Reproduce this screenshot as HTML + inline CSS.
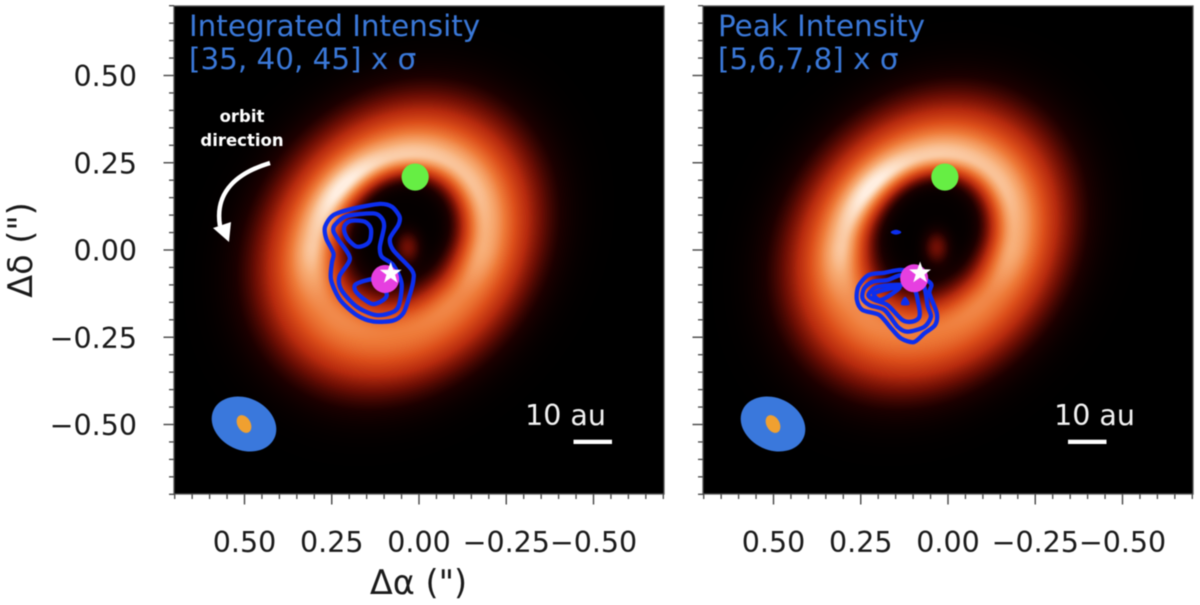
<!DOCTYPE html>
<html lang="en">
<head>
<meta charset="utf-8">
<title>Disc continuum with contours</title>
<style>
html,body{margin:0;padding:0;background:#fff;width:1200px;height:605px;overflow:hidden}
#stage{position:relative;width:1200px;height:605px;overflow:hidden;filter:blur(0.45px)}
canvas{position:absolute;display:block}
svg{position:absolute;left:0;top:0}
text{font-family:"DejaVu Sans","Liberation Sans",sans-serif}
</style>
</head>
<body>
<div id="stage">
<canvas id="img-left" width="490" height="488" style="left:174px;top:6px"></canvas>
<canvas id="img-right" width="490" height="488" style="left:703px;top:6px"></canvas>
<svg id="plot" width="1200" height="605" viewBox="0 0 1200 605">
  <g id="left-panel"></g>
  <g id="right-panel"></g>
  <text x="189" y="36" font-size="29.4" fill="#3a78d8">Integrated Intensity</text>
  <text x="189" y="69" font-size="29.4" fill="#3a78d8">[35, 40, 45] x σ</text>
  <text x="718" y="36" font-size="29.4" fill="#3a78d8">Peak Intensity</text>
  <text x="718" y="69" font-size="29.4" fill="#3a78d8">[5,6,7,8] x σ</text>
  <text x="418.5" y="594" font-size="33.5" text-anchor="middle" fill="#1a1a1a">Δα (")</text>
  <text x="0" y="0" transform="translate(32,250) rotate(-90)" font-size="33.5" text-anchor="middle" fill="#1a1a1a">Δδ (")</text>
  <text x="242" y="122" font-size="16.5" font-weight="bold" text-anchor="middle" fill="#fff">orbit</text>
  <text x="242" y="146" font-size="16.5" font-weight="bold" text-anchor="middle" fill="#fff">direction</text>
  <path d="M270 163 C240 172 214 190 220 226" fill="none" stroke="#fff" stroke-width="4.5"/>
  <polygon points="213,228 231,222 229,242" fill="#fff"/>
</svg>
</div>
<script>
/* Axis ticks (arcsec) */
var majorTicks = [0.5, 0.25, 0, -0.25, -0.5];
var majorTickLabels = ['0.50', '0.25', '0.00', '\u22120.25', '\u22120.50'];
var minorTicks = [0.7,0.65,0.6,0.55,0.45,0.4,0.35,0.3,0.2,0.15,0.1,0.05,-0.05,-0.1,-0.15,-0.2,-0.3,-0.35,-0.4,-0.45,-0.55,-0.6,-0.65,-0.7];

/* Disc model values (arcsec) */
var discCentre = [0.060, 0.020];
var discAxisRatio = [0.83];
var discRingRadius = [0.275];
var ringAzimuths = [0, 45, 90, 135, 180, 225, 270, 315, 360];
var ringExcess = [0.19, 0.24, 0.27, 0.37, 0.26, 0.07, 0.03, 0.06, 0.19];
var innerBlob = [0.034, 0.009, 0.20];

/* Contours, left panel: [dRA, dDec] in arcsec */
var leftContourOuter = [[.269,.067],[.245,.100],[.188,.119],[.112,.132],[.078,.124],[.056,.096],[.059,.072],[.083,.033],[.074,0],[.021,-.057],[.016,-.086],[.028,-.134],[.045,-.181],[.074,-.202],[.131,-.205],[.179,-.186],[.226,-.143],[.252,-.086],[.250,-.038],[.245,-.010],[.266,.033]];
var leftContourMiddle = [[.241,.072],[.207,.097],[.131,.105],[.107,.091],[.100,.067],[.112,.010],[.107,-.019],[.074,-.043],[.050,-.096],[.059,-.162],[.083,-.181],[.126,-.186],[.179,-.162],[.222,-.115],[.228,-.076],[.198,-.024],[.231,.029],[.245,.053]];
var leftContourInnerA = [[.212,.072],[.193,.084],[.155,.081],[.138,.062],[.140,.029],[.155,.014],[.179,.010],[.202,.029],[.214,.053]];
var leftContourInnerB = [[.183,-.100],[.155,-.088],[.126,-.086],[.093,-.124],[.102,-.143],[.131,-.155],[.155,-.143],[.181,-.119]];

/* Contours, right panel */
var rightContourOuter = [[.261,-.143],[.257,-.105],[.228,-.072],[.182,-.065],[.135,-.057],[.096,-.067],[.049,-.096],[.053,-.124],[.032,-.181],[.037,-.215],[.068,-.239],[.098,-.264],[.135,-.253],[.163,-.224],[.197,-.186],[.245,-.172]];
var rightContourSecond = [[.245,-.138],[.240,-.110],[.216,-.091],[.173,-.086],[.130,-.072],[.073,-.096],[.058,-.162],[.049,-.191],[.068,-.220],[.116,-.234],[.144,-.220],[.182,-.172],[.225,-.158]];
var rightContourThird = [[.228,-.129],[.206,-.107],[.154,-.100],[.101,-.105],[.085,-.153],[.082,-.191],[.101,-.205],[.130,-.201],[.173,-.158],[.211,-.143]];
var rightContourInner = [[.213,-.127],[.192,-.117],[.139,-.107],[.173,-.134],[.197,-.143]];
var rightBlobA = [[.133,-.155],[.123,-.136],[.112,-.155]];
var rightBlobB = [[.162,.051],[.149,.056],[.136,.051],[.149,.046]];

/* Markers: [dRA, dDec] */
var leftPlanet = [0.011, 0.209];
var leftCompanion = [0.097, -0.083];
var leftStar = [0.081, -0.067];
var rightPlanet = [0.009, 0.209];
var rightCompanion = [0.097, -0.081];
var rightStar = [0.080, -0.066];

var PX = 349;
var SVGNS = 'http://www.w3.org/2000/svg';
function xAxis(left){ return function(v){ return left + 245 - v * PX; }; }
function yAxis(v){ return 250 - v * PX; }

function add(parent, tag, attrs){
  var n = document.createElementNS(SVGNS, tag);
  for (var k in attrs) n.setAttribute(k, attrs[k]);
  parent.appendChild(n);
  return n;
}
function smooth(pts){
  var n = pts.length, d = 'M' + pts[0][0].toFixed(1) + ' ' + pts[0][1].toFixed(1);
  for (var i = 0; i < n; i++){
    var p0 = pts[(i-1+n)%n], p1 = pts[i], p2 = pts[(i+1)%n], p3 = pts[(i+2)%n];
    var c1x = p1[0] + (p2[0]-p0[0])/7, c1y = p1[1] + (p2[1]-p0[1])/7;
    var c2x = p2[0] - (p3[0]-p1[0])/7, c2y = p2[1] - (p3[1]-p1[1])/7;
    d += 'C' + c1x.toFixed(1) + ' ' + c1y.toFixed(1) + ' ' + c2x.toFixed(1) + ' ' + c2y.toFixed(1) + ' ' + p2[0].toFixed(1) + ' ' + p2[1].toFixed(1);
  }
  return d + 'Z';
}

/* Disc image */
var lutStops = [[0,0,0,0],[.08,28,0,0],[.2,108,14,4],[.34,182,42,14],[.5,220,78,26],[.66,238,122,56],[.82,247,172,116],[.95,252,220,192],[1,255,238,224]];
function lut(v){
  v = Math.max(0, Math.min(1, v));
  for (var i = 1; i < lutStops.length; i++){
    if (v <= lutStops[i][0]){
      var a = lutStops[i-1], b = lutStops[i], t = (v-a[0])/(b[0]-a[0]);
      return [a[1]+(b[1]-a[1])*t, a[2]+(b[2]-a[2])*t, a[3]+(b[3]-a[3])*t];
    }
  }
  return [255,238,224];
}
function excessAt(az){
  az = (az + 360) % 360;
  var i = Math.min(Math.floor(az/45), ringAzimuths.length-2);
  var t = (az - ringAzimuths[i]) / 45;
  t = (1 - Math.cos(t*Math.PI)) / 2;
  return ringExcess[i] + (ringExcess[i+1]-ringExcess[i]) * t;
}
function paintDisc(){
  var w = 490, h = 488;
  var c0 = document.getElementById('img-left').getContext('2d');
  var img = c0.createImageData(w, h);
  var th = 50 * Math.PI / 180, cs = Math.cos(th), sn = Math.sin(th);
  var r0 = discRingRadius[0];
  for (var py = 0; py < h; py++){
    for (var px = 0; px < w; px++){
      var ra = (245 - px) / PX, dec = (244 - py) / PX;
      var dx = discCentre[0] - ra, dy = dec - discCentre[1];   /* screen right, screen up */
      var u = dx*cs + dy*sn, v = (-dx*sn + dy*cs) / discAxisRatio[0];
      var r = Math.sqrt(u*u + v*v);
      var az = Math.atan2(dy, dx) * 180 / Math.PI;
      var ex = excessAt(az), d = r - r0, I;
      if (d < 0){
        /* softer inner edge on the lower side of the cavity */
        var rr = r > 1e-6 ? dy / r : 0;
        var sIn = 0.056 - 0.016 * rr;
        I = (0.62 + ex) * Math.exp(-d*d / (2*sIn*sIn)) + 0.02 * Math.exp(-d*d/(2*0.15*0.15));
      } else {
        I = 0.62 * Math.exp(-d*d / (2*0.118*0.118)) + ex * Math.exp(-d*d / (2*0.052*0.052)) + 0.02 * Math.exp(-d*d/(2*0.1*0.1));
      }
      var bx = ra - innerBlob[0], by = dec - innerBlob[1];
      I += innerBlob[2] * Math.exp(-(bx*bx*1.2 + by*by*0.7) / (2*0.028*0.028));
      var col = lut(I), k = (py*w + px)*4;
      img.data[k] = col[0]; img.data[k+1] = col[1]; img.data[k+2] = col[2]; img.data[k+3] = 255;
    }
  }
  c0.putImageData(img, 0, 0);
  document.getElementById('img-right').getContext('2d').putImageData(img, 0, 0);
}

function drawPanel(gid, left, withLabels, barLeft, contours, blobs, planet, comp, star){
  var g = document.getElementById(gid);
  var X = xAxis(left), top = 6, bottom = 494;

  var frame = add(g, 'rect', {x:left, y:top, width:490, height:488, fill:'none', stroke:'#555', 'stroke-width':1.3});
  
  

  minorTicks.forEach(function(v){
    var tx = add(g, 'line', {x1:X(v), x2:X(v), y1:bottom, y2:bottom+5, stroke:'#444', 'stroke-width':1.3});
    
    
    var ty = add(g, 'line', {x1:left-5, x2:left, y1:yAxis(v), y2:yAxis(v), stroke:'#444', 'stroke-width':1.3});
    
    
  });
  majorTicks.forEach(function(v, i){
    var tx = add(g, 'line', {x1:X(v), x2:X(v), y1:bottom, y2:bottom+10.5, stroke:'#444', 'stroke-width':1.4});
    
    
    var ty = add(g, 'line', {x1:left-10.5, x2:left, y1:yAxis(v), y2:yAxis(v), stroke:'#444', 'stroke-width':1.4});
    
    
    var lab = add(g, 'text', {x:X(v), y:552, 'font-size':28.5, 'text-anchor':'middle', fill:'#1a1a1a'});
    lab.textContent = majorTickLabels[i];
    
    
    if (withLabels){
      var ly = add(g, 'text', {x:137, y:yAxis(v)+10.5, 'font-size':28.5, 'text-anchor':'end', fill:'#1a1a1a'});
      ly.textContent = majorTickLabels[i];
      
      
    }
  });

  contours.forEach(function(c){
    var pts = c.map(function(p){ return [X(p[0]), yAxis(p[1])]; });
    var path = add(g, 'path', {d:smooth(pts), fill:'none', stroke:'#0c2eee', 'stroke-width':4.3, 'stroke-linejoin':'round'});
    
    
  });
  blobs.forEach(function(c){
    var pts = c.map(function(p){ return [X(p[0]), yAxis(p[1])]; });
    var path = add(g, 'path', {d:smooth(pts), fill:'#0c2eee', stroke:'#0c2eee', 'stroke-width':1.5});
    
    
  });

  var pl = add(g, 'circle', {cx:X(planet[0]), cy:yAxis(planet[1]), r:13.6, fill:'#66ee44'});
  
  
  var cm = add(g, 'circle', {cx:X(comp[0]), cy:yAxis(comp[1]), r:14, fill:'#e63fe0'});
  
  

  var sx = X(star[0]), sy = yAxis(star[1]), sp = [];
  for (var i = 0; i < 10; i++){
    var rad = i % 2 ? 4.6 : 11.5, a = -Math.PI/2 + i*Math.PI/5;
    sp.push((sx + rad*Math.cos(a)).toFixed(1) + ',' + (sy + rad*Math.sin(a)).toFixed(1));
  }
  var st = add(g, 'polygon', {points:sp.join(' '), fill:'#fff'});
  
  

  var bcx = left + 70, bcy = 424;
  var beam = add(g, 'ellipse', {cx:bcx, cy:bcy, rx:33.5, ry:26, fill:'#3a78dc', transform:'rotate(25 '+bcx+' '+bcy+')'});
  
  
  var beam2 = add(g, 'ellipse', {cx:bcx, cy:bcy, rx:9.5, ry:6.5, fill:'#f0a030', transform:'rotate(60 '+bcx+' '+bcy+')'});
  
  

  var au = add(g, 'text', {x:left+391.5, y:425, 'font-size':28.5, 'text-anchor':'middle', fill:'#f2f2f2'});
  au.textContent = '10 au';
  
  
  var bar = add(g, 'rect', {x:barLeft, y:439.7, width:38.5, height:4.3, fill:'#fff'});
  
  
}

paintDisc();
drawPanel('left-panel', 174, true, 573.5,
  [leftContourOuter, leftContourMiddle, leftContourInnerA, leftContourInnerB], [],
  leftPlanet, leftCompanion, leftStar);
drawPanel('right-panel', 703, false, 1068,
  [rightContourOuter, rightContourSecond, rightContourThird, rightContourInner], [rightBlobA, rightBlobB],
  rightPlanet, rightCompanion, rightStar);
</script>
</body>
</html>
